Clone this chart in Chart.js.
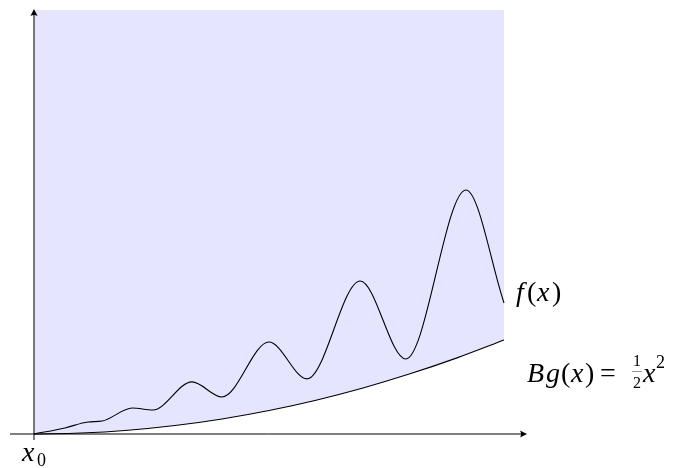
<!DOCTYPE html>
<html lang="en">
<head>
  <meta charset="UTF-8">
  <title>f(x) above Bg(x)</title>
  <script src="https://cdn.jsdelivr.net/npm/chart.js"></script>
  <style>
    body { margin: 0; background: #fff; }
    #chart { display: block; }
  </style>
</head>
<body>
  <canvas id="chart" width="674" height="468"></canvas>

  <script>
    // f(x) (peaks, troughs, shoulders)
    const fX = [0, 0.66, 1.15, 1.45, 2.09, 2.53, 3.36, 4.0, 5.0, 5.81, 6.94, 7.91, 9.19, 10];
    const fY = [0, 3.2, 6.4, 6.9, 13.8, 12.8, 27.7, 19.7, 48.9, 29.3, 81.4, 39.9, 129.8, 69.7];

    // lower bound Bg(x) = x^2 / 2, read at whole x
    const gX = [0, 1, 2, 3, 4, 5, 6, 7, 8, 9, 10];
    const gY = [0, 0.5, 2, 4.5, 8, 12.5, 18, 24.5, 32, 40.5, 50];

    const shadeTop = 225.5;   // top edge of the shaded region
    const xRange = [-0.7234, 13.617];
    const yRange = [-18.085, 230.85];

    const pts = (xs, ys) => xs.map((x, i) => ({ x: x, y: ys[i] }));

    function arrow(ctx, x, y, dir) {
      // small latex-ish arrow head, dir = 'right' or 'up'
      ctx.save();
      ctx.translate(x, y);
      if (dir === 'up') ctx.rotate(-Math.PI / 2);
      ctx.beginPath();
      ctx.moveTo(0, 0);
      ctx.lineTo(-7, -3.6);
      ctx.quadraticCurveTo(-5, 0, -7, 3.6);
      ctx.closePath();
      ctx.fill();
      ctx.restore();
    }

    // each piece: [text, font, x, y]
    function put(ctx, pieces) {
      pieces.forEach(p => {
        ctx.font = p[1];
        ctx.fillText(p[0], p[2], p[3]);
      });
    }

    const axesAndLabels = {
      id: 'axesAndLabels',
      afterDatasetsDraw(chart) {
        const ctx = chart.ctx;
        const xs = chart.scales.x, ys = chart.scales.y;
        const ox = xs.getPixelForValue(0), oy = ys.getPixelForValue(0);

        ctx.save();
        ctx.strokeStyle = '#000';
        ctx.fillStyle = '#000';
        ctx.lineWidth = 1;

        // x axis
        ctx.beginPath();
        ctx.moveTo(10, oy);
        ctx.lineTo(525, oy);
        ctx.stroke();
        arrow(ctx, 527, oy, 'right');

        // y axis
        ctx.beginPath();
        ctx.moveTo(ox, 440);
        ctx.lineTo(ox, 12);
        ctx.stroke();
        arrow(ctx, ox, 9, 'up');

        const serif = '"Liberation Serif", "DejaVu Serif", serif';
        const it = 'italic 28px ' + serif;
        const rm = '28px ' + serif;
        const sub = '18px ' + serif;
        const frac = '16px ' + serif;
        ctx.textBaseline = 'alphabetic';

        // x_0
        put(ctx, [['x', it, 22, 461], ['0', sub, 37, 466]]);

        // f(x) next to the end of f
        const fx = xs.getPixelForValue(fX[fX.length - 1]);
        put(ctx, [['f', it, fx + 12, 301], ['(', rm, fx + 23, 301], ['x', it, fx + 33, 301], [')', rm, fx + 48, 301]]);

        // Bg(x) = 1/2 x^2
        put(ctx, [
          ['B', it, 527, 382], ['g', it, 546, 382], ['(', rm, 561, 382], ['x', it, 571, 382], [')', rm, 585, 382],
          ['=', rm, 600, 382],
          ['1', frac, 633, 366], ['2', frac, 633, 388],
          ['x', it, 643, 382], ['2', sub, 656, 368]
        ]);
        ctx.strokeStyle = '#666';
        ctx.lineWidth = 0.7;
        ctx.beginPath();
        ctx.moveTo(632, 371.5);
        ctx.lineTo(642, 371.5);
        ctx.stroke();

        ctx.restore();
      }
    };

    new Chart(document.getElementById('chart'), {
      type: 'line',
      data: {
        datasets: [
          {
            label: 'f(x)',
            data: pts(fX, fY),
            borderColor: '#000',
            borderWidth: 1.1,
            fill: false,
            pointRadius: 0,
            cubicInterpolationMode: 'monotone'
          },
          {
            label: 'Bg(x)',
            data: pts(gX, gY),
            borderColor: '#000',
            borderWidth: 1.1,
            backgroundColor: '#e5e5ff',
            fill: { value: shadeTop },
            pointRadius: 0,
            cubicInterpolationMode: 'monotone'
          }
        ]
      },
      options: {
        responsive: false,
        animation: false,
        layout: { padding: 0 },
        plugins: { legend: { display: false }, tooltip: { enabled: false } },
        scales: {
          x: { type: 'linear', min: xRange[0], max: xRange[1], display: false },
          y: { min: yRange[0], max: yRange[1], display: false }
        }
      },
      plugins: [axesAndLabels]
    });
  </script>
</body>
</html>
